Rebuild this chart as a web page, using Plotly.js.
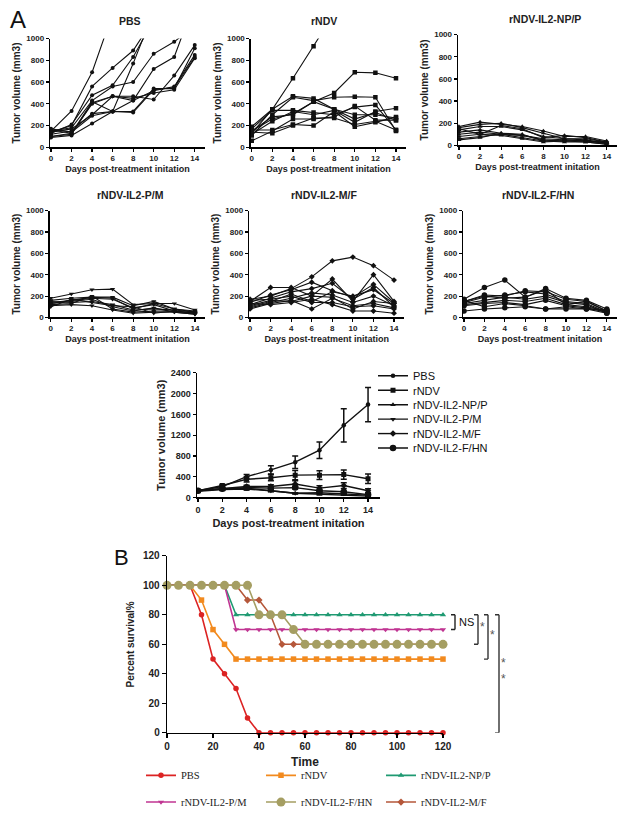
<!DOCTYPE html>
<html><head><meta charset="utf-8">
<script src="https://cdn.plot.ly/plotly-3.0.1.min.js"></script>
<style>body{margin:0;background:#fff}#chart{width:625px;height:817px}</style>
</head><body><div id="chart"></div>
<script>
// ---------- DATA ----------
const days = [0, 2, 4, 6, 8, 10, 12, 14];
const groupNames = ['PBS', 'rNDV', 'rNDV-IL2-NP/P', 'rNDV-IL2-P/M', 'rNDV-IL2-M/F', 'rNDV-IL2-F/HN'];

const pbsMice = [
  [150, 335, 690, 1230, null, null, null, null],
  [140, 200, 560, 730, 890, 1180, null, null],
  [130, 210, 480, 570, 830, 1170, null, null],
  [120, 150, 310, 330, 770, 1250, null, null],
  [150, 180, 430, 560, 600, 860, 970, 1120],
  [100, 130, 400, 470, 430, 720, 830, 1340],
  [100, 120, 410, 470, 470, 440, 660, 940],
  [160, 130, 420, 330, 330, 540, 540, 910],
  [90, 110, 220, 330, 430, 520, 560, 850],
  [170, 140, 290, 330, 320, 530, 550, 830],
  [140, 170, 300, 470, 450, 500, 530, 820]
];
const rndvMice = [
  [190, 350, 635, 930, 1230, null, null, null],
  [150, 260, 310, 420, 500, 690, 685, 635],
  [130, 350, 470, 450, 350, 300, 300, 270],
  [110, 300, 460, 430, 460, 465, 460, 150],
  [170, 340, 340, 320, 300, 370, 390, 160],
  [120, 240, 330, 300, 340, 230, 330, 360],
  [60, 150, 260, 260, 280, 380, 250, 250],
  [160, 160, 210, 200, 330, 190, 230, 280],
  [140, 130, 200, 270, 270, 210, 240, 160],
  [150, 280, 300, 420, 350, 260, 320, 250]
];
const npMice = [
  [170, 210, 190, 170, 130, 80, 80, 40],
  [160, 190, 200, 160, 110, 60, 60, 30],
  [140, 170, 170, 140, 80, 60, 50, 20],
  [120, 140, 110, 90, 60, 50, 40, 30],
  [100, 120, 100, 70, 40, 50, 40, 20],
  [80, 100, 90, 60, 30, 40, 30, 10],
  [60, 80, 100, 90, 50, 40, 40, 20],
  [50, 70, 110, 100, 40, 30, 30, 10],
  [150, 100, 180, 150, 70, 90, 70, 30]
];
const pmMice = [
  [180, 220, 260, 265, 120, 130, 130, 70],
  [160, 180, 190, 190, 110, 150, 80, 50],
  [140, 160, 180, 170, 90, 120, 60, 40],
  [130, 150, 170, 100, 60, 90, 50, 30],
  [120, 130, 200, 80, 50, 60, 60, 40],
  [110, 120, 110, 70, 40, 50, 50, 30],
  [150, 140, 150, 120, 70, 80, 70, 50],
  [100, 170, 140, 110, 100, 40, 60, 40],
  [130, 160, 190, 180, 80, 130, 80, 60]
];
const mfMice = [
  [170, 200, 270, 380, 530, 565, 485, 350],
  [150, 280, 280, 200, 360, 150, 400, 150],
  [140, 210, 260, 330, 250, 190, 310, 140],
  [120, 180, 240, 270, 320, 170, 280, 100],
  [100, 150, 220, 150, 240, 200, 260, 130],
  [90, 140, 180, 230, 210, 140, 200, 110],
  [80, 130, 160, 80, 180, 110, 130, 90],
  [160, 170, 200, 140, 140, 100, 110, 80],
  [130, 120, 140, 170, 120, 60, 60, 40],
  [110, 160, 150, 200, 190, 80, 150, 130]
];
const fhnMice = [
  [170, 280, 350, 190, 270, 180, 160, 80],
  [150, 210, 200, 250, 240, 170, 150, 60],
  [140, 190, 210, 240, 220, 150, 130, 50],
  [130, 160, 190, 170, 200, 140, 120, 40],
  [120, 140, 160, 150, 180, 120, 100, 60],
  [110, 130, 140, 120, 160, 110, 90, 50],
  [60, 80, 90, 100, 80, 80, 80, 40],
  [160, 100, 130, 110, 80, 100, 80, 70],
  [150, 200, 180, 190, 260, 120, 150, 60]
];

// group means and SEM
const meanPBS = [130, 210, 400, 530, 680, 910, 1390, 1790];
const semPBS = [10, 20, 40, 80, 120, 160, 320, 330];
const meanRNDV = [130, 230, 350, 380, 430, 430, 440, 360];
const semRNDV = [10, 20, 50, 60, 90, 85, 90, 90];
const meanNP = [120, 150, 160, 130, 80, 60, 50, 25];
const semNP = [10, 15, 15, 15, 10, 8, 8, 5];
const meanPM = [140, 160, 180, 130, 80, 90, 70, 45];
const semPM = [10, 12, 15, 20, 10, 12, 10, 6];
const meanMF = [130, 170, 210, 210, 260, 180, 230, 130];
const semMF = [10, 20, 25, 35, 60, 45, 55, 40];
const meanFHN = [130, 170, 190, 180, 190, 130, 110, 55];
const semFHN = [10, 20, 25, 20, 25, 15, 10, 8];

// survival
const survTime = [0,5,10,15,20,25,30,35,40,45,50,55,60,65,70,75,80,85,90,95,100,105,110,115,120];
const survPBS  = [100,100,100,80,50,40,30,10,0,0,0,0,0,0,0,0,0,0,0,0,0,0,0,0,0];
const survRNDV = [100,100,100,90,70,60,50,50,50,50,50,50,50,50,50,50,50,50,50,50,50,50,50,50,50];
const survNP   = [100,100,100,100,100,100,80,80,80,80,80,80,80,80,80,80,80,80,80,80,80,80,80,80,80];
const survPM   = [100,100,100,100,100,100,70,70,70,70,70,70,70,70,70,70,70,70,70,70,70,70,70,70,70];
const survFHN  = [100,100,100,100,100,100,100,100,80,80,80,70,60,60,60,60,60,60,60,60,60,60,60,60,60];
const survMF   = [100,100,100,100,100,100,100,90,90,80,60,60,60,60,60,60,60,60,60,60,60,60,60,60,60];

const volTicks = [0, 200, 400, 600, 800, 1000];
const meanTicks = [0, 400, 800, 1200, 1600, 2000, 2400];
const survTicks = [0, 20, 40, 60, 80, 100, 120];

// ---------- LAYOUT HELPERS ----------
const W = 625, H = 817;
const px = v => v / W, py = v => 1 - v / H;
const domX = (a, b) => [a / W, b / W];
const domY = (top, bottom) => [1 - bottom / H, 1 - top / H];
const FONT = 'Arial, "Liberation Sans", sans-serif';
const INK = '#111';

const panels = [
  {mice: pbsMice,  sym: 'circle',        size: 4,   x: [50, 205],       y: [39, 149],  t: [130, 21]},
  {mice: rndvMice, sym: 'square',        size: 4.5, x: [250.7, 406.3],  y: [39, 149],  t: [324, 21]},
  {mice: npMice,   sym: 'triangle-up',   size: 4.5, x: [457.9, 617.2],  y: [35, 147],  t: [545, 19]},
  {mice: pmMice,   sym: 'triangle-down', size: 4.5, x: [49.7, 205.3],   y: [213, 321], t: [130, 197]},
  {mice: mfMice,   sym: 'diamond',       size: 4.5, x: [249, 404.3],    y: [213, 321], t: [324, 197]},
  {mice: fhnMice,  sym: 'circle',        size: 5.5, x: [463, 617],      y: [213, 321], t: [538, 197]}
];

const data = [];
const layout = {
  width: W, height: H, margin: {l: 0, r: 0, t: 0, b: 0},
  paper_bgcolor: '#fff', plot_bgcolor: '#fff',
  font: {family: FONT, color: INK},
  showlegend: true,
  annotations: [], shapes: []
};

function axisStyle(extra) {
  return Object.assign({
    showline: true, linecolor: '#000', linewidth: 1.3, mirror: false,
    ticks: 'outside', ticklen: 3, tickwidth: 1.2, tickcolor: '#000',
    showgrid: false, zeroline: false, fixedrange: true,
    tickfont: {family: FONT, size: 8, weight: 'bold', color: '#222'}
  }, extra);
}
function note(text, x, y, font, extra) {
  return Object.assign({text, x, y, xref: 'paper', yref: 'paper', xanchor: 'center', yanchor: 'middle',
    showarrow: false, font}, extra || {});
}

panels.forEach((p, i) => {
  const k = i + 1, xs = k === 1 ? '' : String(k);
  p.mice.forEach(m => data.push({
    x: days, y: m, xaxis: 'x' + xs, yaxis: 'y' + xs, type: 'scatter', mode: 'lines+markers',
    line: {color: INK, width: 1.1}, marker: {symbol: p.sym, size: p.size, color: INK},
    showlegend: false, hoverinfo: 'skip'
  }));
  layout['xaxis' + xs] = axisStyle({
    domain: domX(p.x[0], p.x[1]), range: [-0.1, 15], tickvals: days, anchor: 'y' + xs,
    title: {text: 'Days post-treatment initation', font: {size: 9, weight: 'bold', color: '#222'}, standoff: 3}
  });
  layout['yaxis' + xs] = axisStyle({
    domain: domY(p.y[0], p.y[1]), range: [0, 1000], tickvals: volTicks, anchor: 'x' + xs,
    title: {text: 'Tumor volume (mm3)', font: {size: 10, weight: 'bold', color: '#222'}, standoff: 3}
  });
  layout.annotations.push(note(groupNames[i], px(p.t[0]), py(p.t[1]),
    {size: 10.5, weight: 'bold', color: '#222'}));
});

// ---------- MEAN PANEL (axis 7) ----------
const meanSets = [
  [meanPBS, semPBS, 'circle', 4.5],
  [meanRNDV, semRNDV, 'square', 5],
  [meanNP, semNP, 'triangle-up', 5],
  [meanPM, semPM, 'triangle-down', 5],
  [meanMF, semMF, 'diamond', 5],
  [meanFHN, semFHN, 'circle', 6.5]
];
meanSets.forEach((s, i) => {
  const lg = i === 0 ? 'legend' : 'legend' + (i + 1);
  data.push({
    x: days, y: s[0], name: groupNames[i], xaxis: 'x7', yaxis: 'y7', type: 'scatter', mode: 'lines+markers',
    line: {color: INK, width: 1.4}, marker: {symbol: s[2], size: s[3], color: INK},
    error_y: {type: 'data', array: s[1], visible: true, color: INK, thickness: 1.5, width: 3},
    legend: lg, hoverinfo: 'skip'
  });
  layout[lg] = {
    x: px(373), y: py(380 + i * 14.6), xanchor: 'left', yanchor: 'middle',
    bgcolor: 'rgba(0,0,0,0)', borderwidth: 0, itemwidth: 30,
    font: {family: FONT, size: 11, color: '#111'}
  };
});
layout.xaxis7 = axisStyle({
  domain: domX(196.8, 380.2), range: [-0.1, 15], tickvals: days, anchor: 'y7',
  tickfont: {family: FONT, size: 9, weight: 'bold', color: '#222'},
  title: {text: 'Days post-treatment initation', font: {size: 11, weight: 'bold', color: '#222'}, standoff: 5}
});
layout.yaxis7 = axisStyle({
  domain: domY(377, 503), range: [0, 2400], tickvals: meanTicks, anchor: 'x7',
  tickfont: {family: FONT, size: 9, weight: 'bold', color: '#222'},
  title: {text: 'Tumor volume (mm3)', font: {size: 11, weight: 'bold', color: '#222'}, standoff: 2}
});

// ---------- SURVIVAL PANEL (axis 8) ----------
const survSets = [
  [survPBS, 'PBS', '#dc2323', 'circle', 5.5],
  [survRNDV, 'rNDV', '#f28a1e', 'square', 5.5],
  [survNP, 'rNDV-IL2-NP/P', '#1f9a72', 'triangle-up', 5.5],
  [survPM, 'rNDV-IL2-P/M', '#c03592', 'triangle-down', 5.5],
  [survMF, 'rNDV-IL2-M/F', '#b5573a', 'diamond', 5.5],
  [survFHN, 'rNDV-IL2-F/HN', '#a59e62', 'circle', 9]
];
const survLegendSlot = {
  'PBS': [0, 0], 'rNDV': [0, 1], 'rNDV-IL2-NP/P': [0, 2],
  'rNDV-IL2-P/M': [1, 0], 'rNDV-IL2-F/HN': [1, 1], 'rNDV-IL2-M/F': [1, 2]
};
const legColX = [141, 261, 381], legRowY = [784, 811];
survSets.forEach((s, i) => {
  const lg = 'legend' + (7 + i);
  data.push({
    x: survTime, y: s[0], name: s[1], xaxis: 'x8', yaxis: 'y8', type: 'scatter', mode: 'lines+markers',
    line: {color: s[2], width: 1.6}, marker: {symbol: s[3], size: s[4], color: s[2]},
    legend: lg, hoverinfo: 'skip', cliponaxis: false
  });
  const slot = survLegendSlot[s[1]];
  layout[lg] = {
    x: px(legColX[slot[1]]), y: py(legRowY[slot[0]]), xanchor: 'left', yanchor: 'middle',
    bgcolor: 'rgba(0,0,0,0)', borderwidth: 0, itemwidth: 30,
    font: {family: '"Liberation Serif", "Times New Roman", serif', size: 10.5, color: '#222'}
  };
});
layout.xaxis8 = axisStyle({
  domain: domX(167, 443), range: [0, 120], tickvals: survTicks, anchor: 'y8',
  ticklen: 4, tickfont: {family: FONT, size: 10, weight: 'bold', color: '#222'},
  title: {text: 'Time', font: {size: 12, weight: 'bold', color: '#222'}, standoff: 6}
});
layout.yaxis8 = axisStyle({
  domain: domY(562, 741), range: [0, 120], tickvals: survTicks, anchor: 'x8',
  ticklen: 4, tickfont: {family: FONT, size: 10, weight: 'bold', color: '#222'},
  title: {text: 'Percent survival%', font: {size: 10, weight: 'bold', color: '#222'}, standoff: 6}
});

// significance brackets (y in survival data units)
const brackets = [
  {x: 455, top: 80, bottom: 70, color: '#222'},
  {x: 478, top: 80, bottom: 60, color: '#333'},
  {x: 488, top: 80, bottom: 50, color: '#333'},
  {x: 499, top: 80, bottom: 0, color: '#333'}
];
brackets.forEach(b => {
  [[b.x, b.top, b.x, b.bottom], [b.x - 4, b.top, b.x, b.top], [b.x - 4, b.bottom, b.x, b.bottom]].forEach(l => {
    layout.shapes.push({type: 'line', xref: 'paper', yref: 'y8', x0: px(l[0]), y0: l[1], x1: px(l[2]), y1: l[3],
      line: {color: b.color, width: 1.4}});
  });
});
const starFont = {family: FONT, size: 12, color: '#555'};
layout.annotations.push(
  Object.assign(note('NS', px(457), 75, {size: 11, color: '#111'}), {yref: 'y8', xanchor: 'left'}),
  Object.assign(note('*', px(482), 72, starFont), {yref: 'y8'}),
  Object.assign(note('*', px(492), 66, starFont), {yref: 'y8'}),
  Object.assign(note('*<br>*', px(503), 42, starFont), {yref: 'y8'}),
  note('A', px(18), py(20), {size: 24, color: '#111'}),
  note('B', px(121), py(564), {size: 22, color: '#111'})
);

Plotly.newPlot('chart', data, layout, {displayModeBar: false, staticPlot: true});
</script>
</body></html>
